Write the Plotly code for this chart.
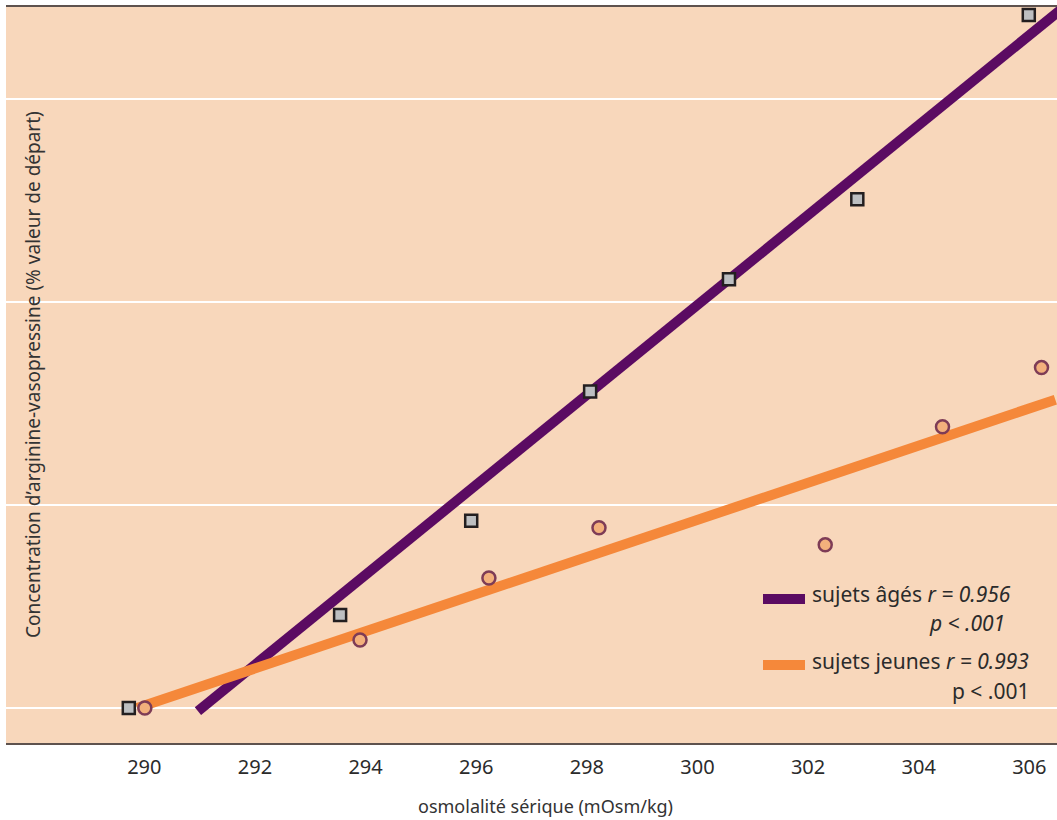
import plotly.graph_objects as go

# Data (x: serum osmolality mOsm/kg, y: AVP % of baseline)
old_x = [289.72, 293.54, 295.91, 298.06, 300.57, 302.89, 305.99]
old_y = [100.0, 145.9, 192.3, 255.9, 311.2, 350.6, 441.4]
young_x = [290.01, 293.90, 296.23, 298.22, 302.31, 304.43, 306.22]
young_y = [100.0, 133.5, 164.1, 188.8, 180.4, 238.6, 267.7]
old_fit_x = [290.97, 306.6]
old_fit_y = [98.5, 444.7]
young_fit_x = [289.87, 306.47]
young_fit_y = [100.0, 251.9]
xticks = [290, 292, 294, 296, 298, 300, 302, 304, 306]
yticks = [100, 200, 300, 400]

PURPLE = "#5b0b62"
ORANGE = "#f5883a"
BG = "#f8d7bb"
W, H = 1057, 820
L, R, T, B = 6, 0, 7, 77
pw, ph = W - L - R, H - T - B

def px(x):
    return (x - L) / pw

def py(y):
    return (H - B - y) / ph

fig = go.Figure()
fig.add_trace(go.Scatter(x=old_fit_x, y=old_fit_y, mode="lines",
                         line=dict(color=PURPLE, width=10), hoverinfo="skip"))
fig.add_trace(go.Scatter(x=young_fit_x, y=young_fit_y, mode="lines",
                         line=dict(color=ORANGE, width=10), hoverinfo="skip"))
fig.add_trace(go.Scatter(x=old_x, y=old_y, mode="markers",
                         marker=dict(symbol="square", size=12, color="#bdbfc1",
                                     line=dict(color="#231f20", width=2.5))))
fig.add_trace(go.Scatter(x=young_x, y=young_y, mode="markers",
                         marker=dict(symbol="circle", size=13, color="#f3b07c",
                                     line=dict(color="#7e3c56", width=2.5))))

fnt = "Noto Sans"
ann = []
ann.append(dict(xref="paper", yref="paper", x=px(33), y=0.5, textangle=-90,
                xanchor="center", yanchor="middle",
                text="Concentration d’arginine-vasopressine (% valeur de départ)",
                showarrow=False, font=dict(family=fnt, size=19, color="#333333")))
ann.append(dict(xref="paper", yref="paper", x=px(545), y=py(806),
                xanchor="center", yanchor="middle",
                text="osmolalité sérique (mOsm/kg)", showarrow=False,
                font=dict(family=fnt, size=18, color="#333333")))
lf = dict(family=fnt, size=21, color="#2b2b2b")
ann.append(dict(xref="paper", yref="paper", x=px(810), y=py(594), xanchor="left",
                yanchor="middle",
                text="sujets âgés <i>r = 0.956</i>", showarrow=False, font=lf))
ann.append(dict(xref="paper", yref="paper", x=px(1007), y=py(623), xanchor="right",
                yanchor="middle",
                text="<i>p &lt; .001</i>", showarrow=False, font=lf))
ann.append(dict(xref="paper", yref="paper", x=px(810), y=py(661), xanchor="left",
                yanchor="middle",
                text="sujets jeunes <i>r = 0.993</i>", showarrow=False, font=lf))
ann.append(dict(xref="paper", yref="paper", x=px(1032), y=py(691), xanchor="right",
                yanchor="middle",
                text="p &lt; .001", showarrow=False, font=lf))

shapes = [
    dict(type="line", xref="paper", yref="paper", x0=px(763), x1=px(805),
         y0=py(599), y1=py(599), line=dict(color=PURPLE, width=10)),
    dict(type="line", xref="paper", yref="paper", x0=px(763), x1=px(805),
         y0=py(665), y1=py(665), line=dict(color=ORANGE, width=10)),
]

fig.update_layout(
    width=W, height=H,
    margin=dict(l=L, r=R, t=T, b=B),
    paper_bgcolor="white", plot_bgcolor=BG,
    showlegend=False,
    annotations=ann, shapes=shapes,
    xaxis=dict(range=[287.5, 306.5], tickvals=xticks, showgrid=False,
               zeroline=False, showline=True, mirror=True,
               linecolor="#5e524e", linewidth=2, ticks="", ticklabelstandoff=5,
               tickfont=dict(family=fnt, size=20, color="#2b2b2b")),
    yaxis=dict(range=[82.8, 445.3], tickvals=yticks, showticklabels=False,
               showgrid=True, gridcolor="white", gridwidth=2, zeroline=False,
               showline=False, ticks=""),
)

fig.write_html("out.html", config={"displayModeBar": False},
               post_script="document.body.style.margin='0';document.body.style.overflow='hidden';")
